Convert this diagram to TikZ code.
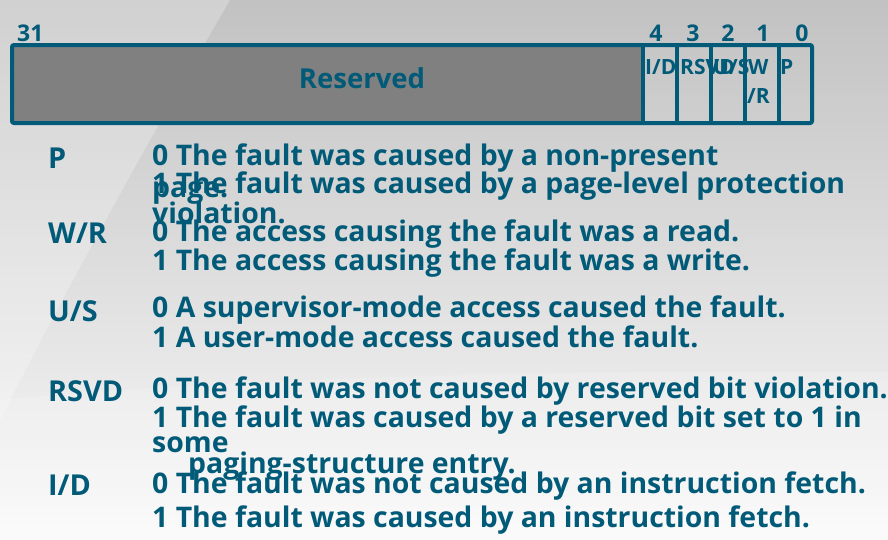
\documentclass[tikz,border=0pt]{standalone}
\usepackage{fontspec}
\setmainfont{Open Sans}
\usetikzlibrary{positioning}
\definecolor{teal1}{HTML}{005A78}
\definecolor{resgray}{HTML}{808080}
\begin{document}
\begin{tikzpicture}[x=1pt,y=-1pt,
  txt/.style={anchor=base west,inner sep=0pt,text=teal1,font=\bfseries\fontsize{28.4}{30}\selectfont},
  lbl/.style={anchor=base west,inner sep=0pt,text=teal1,font=\bfseries\fontsize{28.8}{30}\selectfont},
  bitnum/.style={anchor=base,inner sep=0pt,text=teal1,font=\bfseries\fontsize{23}{25}\selectfont},
  cell/.style={anchor=base west,inner sep=0pt,text=teal1,font=\bfseries\fontsize{21}{23}\selectfont},
  frame/.style={draw=teal1,line width=4pt}]
\useasboundingbox (0,0) rectangle (888,539);
% background
\shade[top color=black!24,bottom color=black!2] (0,0) rectangle (888,539);
\fill[white,opacity=0.25] (0,0) -- (230,0) .. controls (160,120) and (60,300) .. (0,420) -- cycle;
\fill[white,opacity=0.18] (0,400) .. controls (200,380) and (500,370) .. (888,372) -- (888,539) -- (0,539) -- cycle;
% register
\fill[resgray] (12,45) rectangle (643,123);
\draw[frame,rounded corners=2pt] (12,45) rectangle (812,123);
\foreach \x in {643,677,711,745,779} \draw[frame] (\x,45) -- (\x,123);
\node[bitnum,anchor=base west] (b31) at (17,41) {31};
\node[bitnum] (b4) at (656,41) {4};
\node[bitnum] (b3) at (693,41) {3};
\node[bitnum] (b2) at (728,41) {2};
\node[bitnum] (b1) at (763,41) {1};
\node[bitnum] (b0) at (802,41) {0};
\node[anchor=base,inner sep=0pt,text=teal1,font=\bfseries\fontsize{27.5}{29}\selectfont] (res) at (362,88) {Reserved};
\node[cell] (cid) at (645,74) {I/D};
\node[cell] (crsvd) at (680,74) {RSVD};
\node[cell] (cus) at (713,74) {U/S};
\node[cell] (cw) at (748,74) {W};
\node[cell] (cr) at (747,103) {/R};
\node[cell] (cp) at (780,74) {P};
% descriptions
\node[lbl] (lp) at (48,168) {P};
\node[lbl] (lwr) at (48,243) {W/R};
\node[lbl] (lus) at (48,321) {U/S};
\node[lbl] (lrsvd) at (48,401) {RSVD};
\node[lbl] (lid) at (48,495) {I/D};
\node[txt] (p0) at (152,165) {0 The fault was caused by a non-present};
\node[txt] (p1) at (152,193) {1 The fault was caused by a page-level protection};
\node[txt] (p0b) at (152,197) {page.};
\node[txt] (p1b) at (152,223) {violation.};
\node[txt] (w0) at (152,241) {0 The access causing the fault was a read.};
\node[txt] (w1) at (152,270) {1 The access causing the fault was a write.};
\node[txt] (u0) at (152,317) {0 A supervisor-mode access caused the fault.};
\node[txt] (u1) at (152,347) {1 A user-mode access caused the fault.};
\node[txt] (r0) at (152,398) {0 The fault was not caused by reserved bit violation.};
\node[txt] (r1) at (152,427) {1 The fault was caused by a reserved bit set to 1 in};
\node[txt] (r1b) at (152,452) {some};
\node[txt] (r1c) at (188,473) {paging-structure entry.};
\node[txt] (i0) at (152,493) {0 The fault was not caused by an instruction fetch.};
\node[txt] (i1) at (152,527) {1 The fault was caused by an instruction fetch.};
\end{tikzpicture}
\end{document}
